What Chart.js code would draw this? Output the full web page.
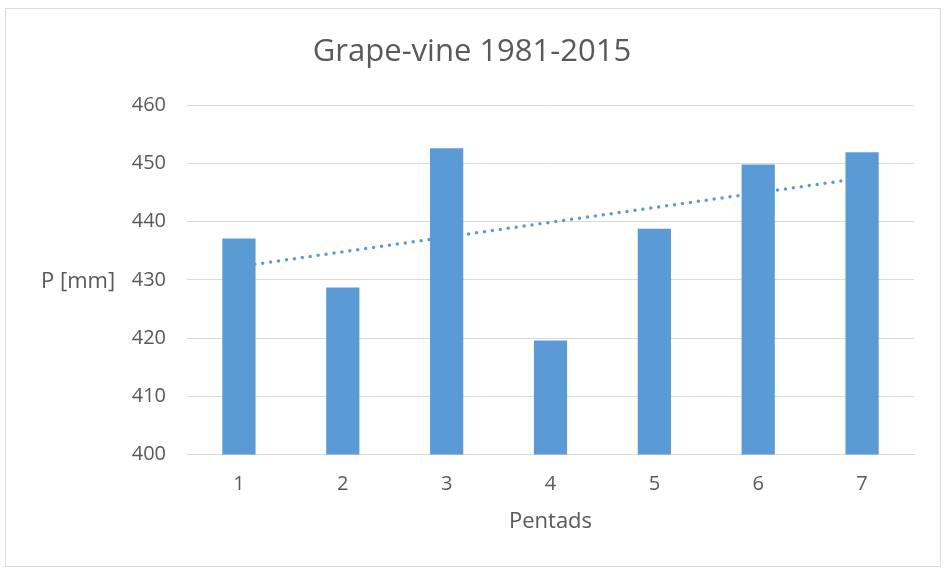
<!DOCTYPE html>
<html>
<head>
<meta charset="utf-8">
<script src="https://cdn.jsdelivr.net/npm/chart.js@4/dist/chart.umd.min.js"></script>
<style>
  body { margin: 0; background: #fff; }
  #frame { position: absolute; left: 5px; top: 8px; width: 934px; height: 557px; border: 1px solid #d9d9d9; }
  #myChart { position: absolute; left: 0; top: 0; }
</style>
</head>
<body>
<div id="frame"></div>
<canvas id="myChart" width="944" height="569"></canvas>
<script>
// pentads 1..7
var pentads = ["1", "2", "3", "4", "5", "6", "7"];
// precipitation per pentad, mm
var precip = [437.1, 428.7, 452.6, 419.6, 438.8, 449.8, 451.9];
// linear trend end points
var trendLabels = ["1", "7"];
var trendValues = [432.3, 447.5];
var yTicks = [400, 410, 420, 430, 440, 450, 460];

var textColor = "#595959";
var blue = "#5b9bd5";
var grid = "#d9d9d9";
var fontName = "'Open Sans', sans-serif";

// y title sits horizontally left of the ticks, like in Excel
var yTitle = {
  id: "yTitle",
  afterDraw: function (chart) {
    var ctx = chart.ctx;
    var area = chart.chartArea;
    ctx.save();
    ctx.fillStyle = textColor;
    ctx.font = "22px " + fontName;
    ctx.textAlign = "left";
    ctx.textBaseline = "middle";
    ctx.fillText("P [mm]", 41, (area.top + area.bottom) / 2 + 2);
    ctx.restore();
  }
};

var mychart = new Chart(document.getElementById("myChart"), {
  type: "bar",
  data: {
    labels: pentads,
    datasets: [
      {
        type: "bar",
        data: precip,
        backgroundColor: blue,
        borderWidth: 0,
        barPercentage: 0.32,
        categoryPercentage: 1,
        order: 1
      },
      {
        type: "line",
        data: trendLabels.map(function (l, i) { return { x: l, y: trendValues[i] }; }),
        borderColor: blue,
        borderWidth: 3.5,
        borderDash: [0, 8],
        borderCapStyle: "round",
        pointRadius: 0,
        fill: false,
        order: 2
      }
    ]
  },
  options: {
    responsive: false,
    animation: false,
    layout: { padding: { left: 30, right: 30, top: 0, bottom: 34 } },
    plugins: {
      legend: { display: false },
      tooltip: { enabled: false },
      title: {
        display: true,
        text: "Grape-vine 1981-2015",
        color: textColor,
        font: { family: fontName, size: 31, weight: "normal" },
        padding: { top: 34, bottom: 34 }
      }
    },
    scales: {
      x: {
        grid: { display: false, drawTicks: false },
        border: { display: true, color: grid, width: 1 },
        ticks: { color: textColor, font: { family: fontName, size: 20 }, padding: 18 },
        title: {
          display: true,
          text: "Pentads",
          color: textColor,
          font: { family: fontName, size: 22 },
          padding: { top: -6, bottom: 0 }
        }
      },
      y: {
        min: 400,
        max: 460,
        afterFit: function (s) { s.width = 157; },
        afterBuildTicks: function (s) { s.ticks = yTicks.map(function (v) { return { value: v }; }); },
        grid: { color: grid, lineWidth: 1, drawTicks: false },
        border: { display: false },
        ticks: { color: textColor, font: { family: fontName, size: 20 }, padding: 21 }
      }
    }
  },
  plugins: [yTitle]
});
</script>
</body>
</html>
